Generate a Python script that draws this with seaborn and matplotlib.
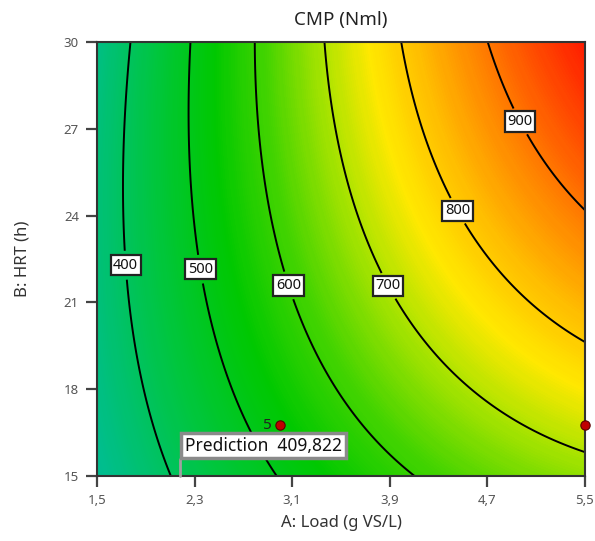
import numpy as np
import pandas as pd
import matplotlib
matplotlib.use("Agg")
import matplotlib.pyplot as plt
import seaborn as sns
from matplotlib.colors import LinearSegmentedColormap, Normalize

# ---------------- data ----------------
title = "CMP (Nml)"
x_label = "A: Load (g VS/L)"
y_label = "B: HRT (h)"
x_ticks = [1.5, 2.3, 3.1, 3.9, 4.7, 5.5]
x_tick_labels = ["1,5", "2,3", "3,1", "3,9", "4,7", "5,5"]
y_ticks = [15, 18, 21, 24, 27, 30]
y_tick_labels = ["15", "18", "21", "24", "27", "30"]
contour_levels = [400, 500, 600, 700, 800, 900]

# points (level, Load, HRT)
trace_level = [400, 500, 600, 700, 800, 900,
               400, 500, 600, 700, 800, 900,
               400, 500, 600, 700, 800, 900,
               400, 500, 600, 700, 800,
               400, 500, 600, 700,
               400, 500, 600, 700,
               400, 500, 600,
               700, 800, 900]
trace_load = [1.79, 2.27, 2.79, 3.36, 3.99, 4.70,
              1.72, 2.25, 2.82, 3.45, 4.16, 5.02,
              1.72, 2.28, 2.90, 3.62, 4.48, 5.46,
              1.77, 2.40, 3.14, 3.98, 5.19,
              1.91, 2.63, 3.52, 4.69,
              2.07, 2.92, 4.04, 5.46,
              2.08, 2.96, 4.08,
              5.5, 5.5, 5.5]
trace_hrt = [30.0, 30.0, 30.0, 30.0, 30.0, 30.0,
             26.96, 26.96, 26.96, 26.96, 26.96, 26.96,
             24.19, 24.19, 24.19, 24.19, 24.19, 24.19,
             20.74, 20.74, 20.74, 20.74, 20.74,
             17.63, 17.63, 17.63, 17.63,
             15.55, 15.55, 15.55, 15.55,
             15.0, 15.0, 15.0,
             15.93, 19.68, 24.23]

design_load = [3.0, 5.5]
design_hrt = [16.75, 16.75]
design_text = ["5", ""]

pred_load = 2.18
pred_hrt = 15.0
pred_text = "Prediction  409,822"

# colour scale of the surface (value, RGB)
cmap_values = [250, 330, 450, 540, 620, 700, 760, 820, 900, 1010]
cmap_colors = [(0, 180, 165), (0, 190, 140), (0, 198, 60), (0, 200, 0), (70, 212, 0),
               (175, 228, 0), (255, 232, 0), (255, 190, 0), (255, 120, 0), (255, 15, 0)]

# ---------------- quadratic response surface fitted to the traced points ----------------
A = np.array(trace_load)
B = np.array(trace_hrt)
Y = np.array(trace_level, dtype=float)
X = np.column_stack([np.ones_like(A), A, B, A * B, A ** 2, B ** 2])
coef, *_ = np.linalg.lstsq(X, Y, rcond=None)

ga = np.linspace(1.5, 5.5, 300)
gb = np.linspace(15, 30, 300)
GA, GB = np.meshgrid(ga, gb)
Z = (coef[0] + coef[1] * GA + coef[2] * GB + coef[3] * GA * GB
     + coef[4] * GA ** 2 + coef[5] * GB ** 2)

vmin, vmax = cmap_values[0], cmap_values[-1]
nodes = [((v - vmin) / (vmax - vmin), tuple(c / 255 for c in col))
         for v, col in zip(cmap_values, cmap_colors)]
cmap = LinearSegmentedColormap.from_list("de", nodes)
norm = Normalize(vmin, vmax)

# ---------------- figure ----------------
sns.set_style("white")
plt.rcParams["font.family"] = ["Noto Sans", "DejaVu Sans"]

fig = plt.figure(figsize=(5.95, 5.41), dpi=100)
ax = fig.add_axes([97 / 595, 1 - 476 / 541, 488 / 595, 434 / 541])

ax.contourf(GA, GB, Z, levels=np.linspace(Z.min() - 1, Z.max() + 1, 256),
            cmap=cmap, norm=norm, antialiased=False)
cs = ax.contour(GA, GB, Z, levels=contour_levels, colors="black", linewidths=1.4)
label_pos = [(1.754, 22.29), (2.352, 22.15), (3.082, 21.60),
             (3.902, 21.60), (4.484, 24.23), (5.008, 27.34)]
labels = ax.clabel(cs, fmt="%d", fontsize=10.5, inline=True, inline_spacing=2,
                   manual=label_pos)
for t in labels:
    t.set_rotation(0)
    t.set_color("#111111")
    t.set_bbox(dict(boxstyle="square,pad=0.18", fc="white", ec="#222222", lw=1.6))

# design points
pts = pd.DataFrame({"load": design_load, "hrt": design_hrt})
sns.scatterplot(data=pts, x="load", y="hrt", ax=ax, color="#c00000", s=45,
                edgecolor="#5a0000", linewidth=0.8, zorder=5, clip_on=False,
                legend=False)
for x, y, s in zip(design_load, design_hrt, design_text):
    if s:
        ax.text(x - 0.07, y, s, ha="right", va="center", fontsize=11, color="#222222")

# prediction flag
ax.plot([pred_load, pred_load], [pred_hrt, pred_hrt + 0.6], color="#a0a0a0", lw=2,
        zorder=6, clip_on=False)
ax.text(pred_load + 0.04, pred_hrt + 0.74, pred_text, ha="left", va="bottom",
        fontsize=12.5, color="#111111", zorder=7,
        bbox=dict(boxstyle="square,pad=0.22", fc="white", ec="#8a8a8a", lw=2.5))

ax.set_xlim(1.5, 5.5)
ax.set_ylim(15, 30)
ax.set_xticks(x_ticks)
ax.set_xticklabels(x_tick_labels)
ax.set_yticks(y_ticks)
ax.set_yticklabels(y_tick_labels)
ax.tick_params(axis="both", direction="out", length=8, width=1.6, color="#444444",
               labelsize=9.5, labelcolor="#555555", pad=5)
ax.tick_params(bottom=True, left=True)
for sp in ax.spines.values():
    sp.set_color("#333333")
    sp.set_linewidth(1.5)
    sp.set_visible(True)

ax.set_title(title, fontsize=13.5, color="#222222", pad=12)
ax.set_xlabel(x_label, fontsize=12, color="#333333", labelpad=6)
ax.set_ylabel(y_label, fontsize=12, color="#333333", labelpad=24)

fig.savefig("out.png", dpi=100)
